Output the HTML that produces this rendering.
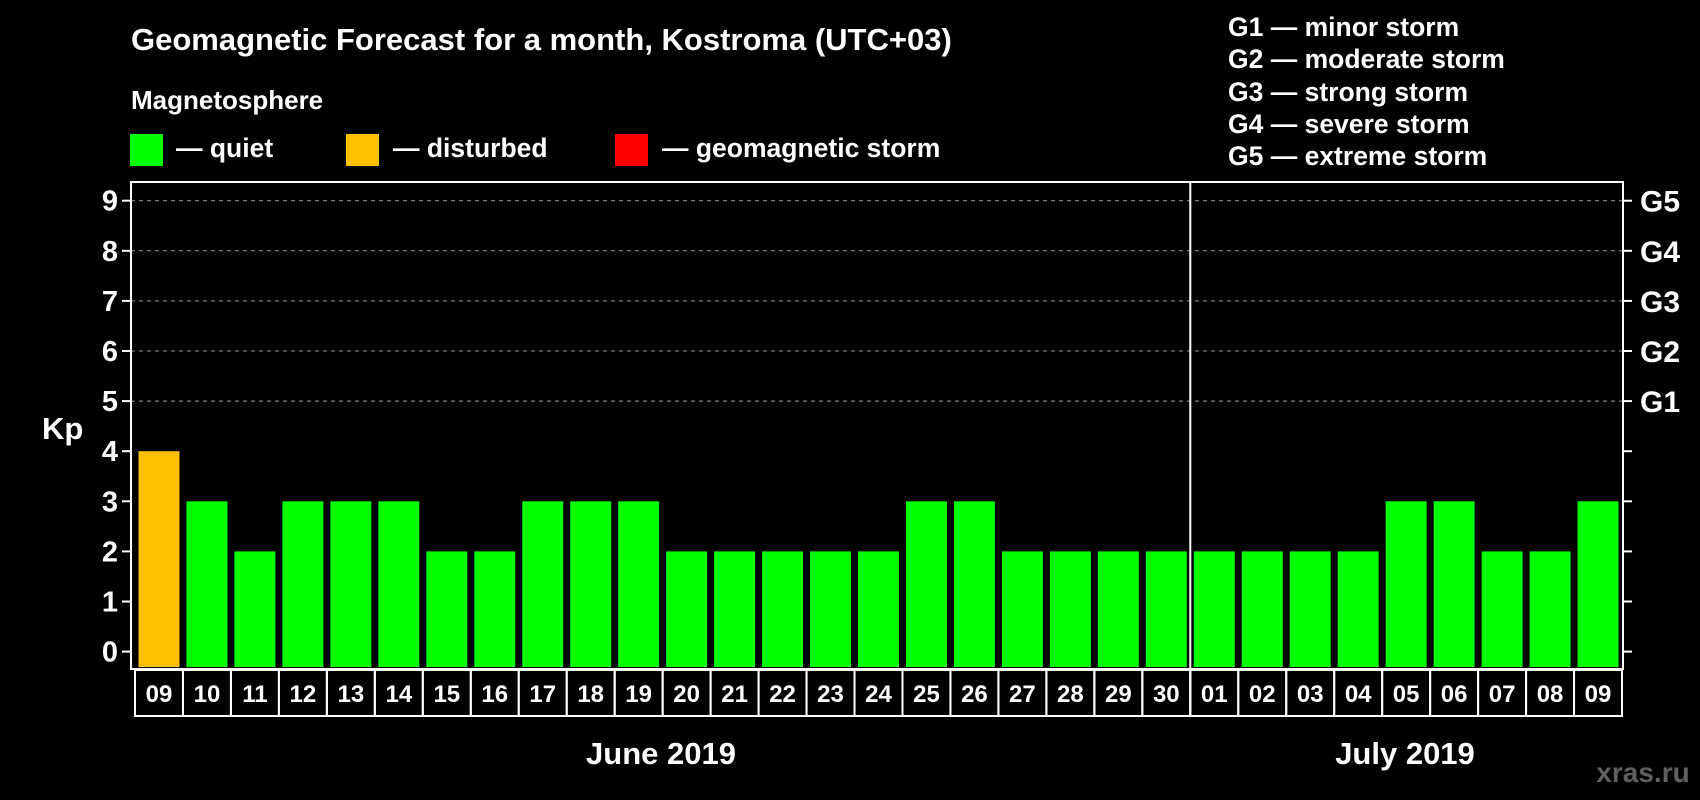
<!DOCTYPE html>
<html><head><meta charset="utf-8"><style>
html,body{margin:0;padding:0;background:#000;}
svg{display:block;font-family:"Liberation Sans",sans-serif;font-weight:bold;}
</style></head><body>
<svg id="chart" width="1700" height="800" xmlns="http://www.w3.org/2000/svg">
<rect width="1700" height="800" fill="#000"/>
<text x="131" y="50" font-size="31" fill="#fff">Geomagnetic Forecast for a month, Kostroma (UTC+03)</text>
<text x="131" y="109" font-size="26" fill="#fff">Magnetosphere</text>
<g><rect x="130" y="134" width="33" height="32" fill="#00ff00"/><text x="176" y="157" font-size="26.5" fill="#fff">— quiet</text></g>
<g><rect x="346" y="134" width="33" height="32" fill="#ffc000"/><text x="393" y="157" font-size="26.5" fill="#fff">— disturbed</text></g>
<g><rect x="615" y="134" width="33" height="32" fill="#ff0000"/><text x="662" y="157" font-size="26.5" fill="#fff">— geomagnetic storm</text></g>
<g font-size="26.5" fill="#fff">
<text x="1228" y="36">G1 — minor storm</text>
<text x="1228" y="68">G2 — moderate storm</text>
<text x="1228" y="101">G3 — strong storm</text>
<text x="1228" y="133">G4 — severe storm</text>
<text x="1228" y="165">G5 — extreme storm</text>
</g>
<text x="42" y="439" font-size="31" fill="#fff">Kp</text>
<g id="grid"></g><g id="bars"></g><g id="axes"></g><g id="dates"></g>
<text x="661" y="764" font-size="31" fill="#fff" text-anchor="middle">June 2019</text>
<text x="1405" y="764" font-size="31" fill="#fff" text-anchor="middle">July 2019</text>
<text x="1643" y="782" font-size="28" fill="#606060" text-anchor="middle">xras.ru</text>
</svg>
<script>
const categories=["09","10","11","12","13","14","15","16","17","18","19","20","21","22","23","24","25","26","27","28","29","30","01","02","03","04","05","06","07","08","09"];
const kpValues=[4,3,2,3,3,3,2,2,3,3,3,2,2,2,2,2,3,3,2,2,2,2,2,2,2,2,3,3,2,2,3];
const yTicks=[0,1,2,3,4,5,6,7,8,9];
const gLabels=["","","","","","G1","G2","G3","G4","G5"];
const NS="http://www.w3.org/2000/svg";
const L=131,R=1623,T=182,B=669,y0=651.6,unit=50.1;
const x0=135,step=(1622-135)/categories.length;
const y=v=>y0-v*unit;
const xs=i=>x0+i*step;
function mk(tag,attrs,parent){const e=document.createElementNS(NS,tag);for(const k in attrs)e.setAttribute(k,attrs[k]);document.getElementById(parent).appendChild(e);return e;}
yTicks.forEach((t,i)=>{
 if(t>=5){const g=mk("line",{x1:L,x2:R,y1:y(t),y2:y(t),stroke:"#999","stroke-dasharray":"4,4","stroke-width":1},"grid");
 
 }
 const a=mk("line",{x1:L-9,x2:L,y1:y(t),y2:y(t),stroke:"#fff","stroke-width":2},"axes");
 
 
 const b=mk("line",{x1:R,x2:R+9,y1:y(t),y2:y(t),stroke:"#fff","stroke-width":2},"axes");
 
 
 const tx=mk("text",{x:L-13,y:y(t)+10,"font-size":29,fill:"#fff","text-anchor":"end"},"axes");tx.textContent=t;
 
 
 if(gLabels[i]){const g2=mk("text",{x:R+17,y:y(t)+11,"font-size":30,fill:"#fff"},"axes");g2.textContent=gLabels[i];
 
 }
});
kpValues.forEach((v,i)=>{
 const col=v>=5?"#ff0000":(v>=4?"#ffc000":"#00ff00");
 const r=mk("rect",{x:xs(i)+3.5,y:y(v),width:step-7,height:B-2-y(v),fill:col},"bars");
 
 
 const c=mk("rect",{x:xs(i),y:B+1,width:step,height:46,fill:"none",stroke:"#fff","stroke-width":2},"dates");
 
 
 const t=mk("text",{x:xs(i)+step/2,y:B+33,"font-size":24,fill:"#fff","text-anchor":"middle"},"dates");t.textContent=categories[i];
 
 
});
const fr=mk("rect",{x:L,y:T,width:R-L,height:B-T,fill:"none",stroke:"#fff","stroke-width":2},"axes");


const dv=mk("line",{x1:xs(22),x2:xs(22),y1:T,y2:B+47,stroke:"#fff","stroke-width":2},"axes");


</script>
</body></html>
